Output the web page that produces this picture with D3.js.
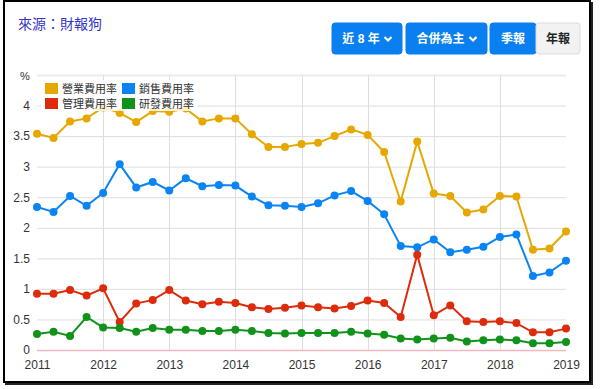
<!DOCTYPE html>
<html>
<head>
<meta charset="utf-8">
<script src="https://cdn.jsdelivr.net/npm/d3@7"></script>
<style type="text/css">
  body { margin: 0; background: #fff; font-family: Arial, "Liberation Sans", "Noto Sans CJK TC", sans-serif; }
  #frame {
    position: absolute; left: 3px; top: 0px; width: 584px; height: 379px;
    border: 2px solid #000; box-shadow: 2px 2px 0 #222; background: #fff;
  }
  svg { position: absolute; left: 0; top: 0; }
</style>
</head>
<body>
<div id="frame"></div>
<script type="text/javascript">

  // quarterly periods 2011 Q1 .. 2019 Q1
  var years = [2011, 2012, 2013, 2014, 2015, 2016, 2017, 2018, 2019];
  var yTicks = [0, 0.5, 1, 1.5, 2, 2.5, 3, 3.5, 4];
  var seriesNames = ["營業費用率", "銷售費用率", "管理費用率", "研發費用率"];
  var colors = ["#e6a800", "#0a84f2", "#dc2c0c", "#11921a"];

  var opex  = [3.54, 3.47, 3.74, 3.79, 3.97, 3.88, 3.73, 3.91, 3.90, 3.95, 3.74, 3.79, 3.79, 3.53, 3.32, 3.32, 3.37,
               3.39, 3.50, 3.61, 3.52, 3.24, 2.43, 3.41, 2.56, 2.52, 2.25, 2.30, 2.52, 2.51, 1.64, 1.66, 1.94];
  var sales = [2.34, 2.26, 2.52, 2.36, 2.57, 3.04, 2.66, 2.75, 2.61, 2.81, 2.68, 2.70, 2.69, 2.51, 2.37, 2.36, 2.34,
               2.40, 2.53, 2.60, 2.44, 2.22, 1.70, 1.68, 1.81, 1.60, 1.64, 1.69, 1.85, 1.89, 1.21, 1.27, 1.46];
  var admin = [0.92, 0.92, 0.98, 0.89, 1.01, 0.46, 0.76, 0.82, 0.98, 0.81, 0.75, 0.79, 0.77, 0.70, 0.67, 0.69, 0.73,
               0.70, 0.68, 0.72, 0.81, 0.77, 0.54, 1.56, 0.57, 0.73, 0.47, 0.46, 0.47, 0.44, 0.29, 0.29, 0.35];
  var rnd   = [0.26, 0.30, 0.23, 0.54, 0.37, 0.36, 0.30, 0.36, 0.33, 0.33, 0.31, 0.31, 0.33, 0.31, 0.28, 0.27, 0.28,
               0.28, 0.28, 0.30, 0.27, 0.25, 0.19, 0.17, 0.19, 0.20, 0.14, 0.16, 0.17, 0.16, 0.11, 0.11, 0.13];

  var allSeries = [opex, sales, admin, rnd];

  var W = 600, H = 389;
  var svg = d3.select("body").append("svg").attr("width", W).attr("height", H);

  // header
  svg.append("text").attr("x", 18).attr("y", 29)
    .attr("font-size", 14).attr("fill", "#3535c8").text("來源：財報狗");

  var buttons = [
    {label: "近 8 年", x: 332, w: 70, arrow: true, on: true},
    {label: "合併為主", x: 406, w: 81, arrow: true, on: true},
    {label: "季報", x: 490, w: 46, arrow: false, on: true},
    {label: "年報", x: 536, w: 44, arrow: false, on: false}
  ];
  var btn = svg.selectAll(".btn").data(buttons).enter().append("g").attr("class", "btn");
  btn.append("rect")
    .attr("x", function(d) { return d.x; }).attr("y", 23)
    .attr("width", function(d) { return d.w; }).attr("height", 31)
    .attr("rx", 3)
    .attr("fill", function(d) { return d.on ? "#0a7ff0" : "#f2f2f2"; })
    .attr("stroke", function(d) { return d.on ? "#0a7ff0" : "#dcdcdc"; });
  btn.append("text")
    .attr("x", function(d) { return d.x + d.w / 2 + (d.arrow ? -6 : 0); })
    .attr("y", 43).attr("text-anchor", "middle")
    .attr("font-size", 12).attr("font-weight", "bold")
    .attr("fill", function(d) { return d.on ? "#fff" : "#222"; })
    .text(function(d) { return d.label; });
  btn.filter(function(d) { return d.arrow; }).append("path")
    .attr("d", function(d) {
      var cx = d.x + d.w - 14;
      return "M" + (cx - 3.5) + ",37 L" + cx + ",40.5 L" + (cx + 3.5) + ",37";
    })
    .attr("fill", "none").attr("stroke", "#fff").attr("stroke-width", 2.2);

  // chart
  var x = d3.scaleLinear().domain([2011, 2019]).range([37, 566]);
  var y = d3.scaleLinear().domain([0, 4.5]).range([350, 75]);

  var g = svg.append("g");

  g.selectAll(".hgrid").data(yTicks.slice(1).concat([4.5])).enter().append("line")
    .attr("x1", 37).attr("x2", 566)
    .attr("y1", function(d) { return y(d) + 0.5; }).attr("y2", function(d) { return y(d) + 0.5; })
    .attr("stroke", function(d) { return d === 4.5 ? "#ececec" : "#dedede"; })
    .attr("stroke-width", function(d) { return d === 4.5 ? 2 : 1; });

  g.selectAll(".vgrid").data(years.slice(1, -1)).enter().append("line")
    .attr("x1", function(d) { return Math.round(x(d)) + 0.5; })
    .attr("x2", function(d) { return Math.round(x(d)) + 0.5; })
    .attr("y1", 75).attr("y2", 350)
    .attr("stroke", "#dedede");

  g.append("line").attr("x1", 37).attr("x2", 566)
    .attr("y1", y(0) + 0.5).attr("y2", y(0) + 0.5)
    .attr("stroke", "#f2b8c0").attr("stroke-width", 1.5);

  // axes
  var yAxis = d3.axisLeft(y).tickValues(yTicks).tickSize(0).tickPadding(6)
    .tickFormat(function(d) { return d3.format("")(d); });
  var ya = g.append("g").attr("transform", "translate(36,0)").call(yAxis);
  ya.select(".domain").remove();
  ya.selectAll("text").attr("font-size", 12).attr("fill", "#333")
    .attr("font-family", "Arial, 'Liberation Sans', sans-serif");

  var xAxis = d3.axisBottom(x).tickValues(years).tickSize(0).tickPadding(10)
    .tickFormat(d3.format("d"));
  var xa = g.append("g").attr("transform", "translate(0,350)").call(xAxis);
  xa.select(".domain").remove();
  xa.selectAll("text").attr("font-size", 12).attr("fill", "#333")
    .attr("font-family", "Arial, 'Liberation Sans', sans-serif");

  g.append("text").attr("x", 20).attr("y", 80).attr("font-size", 11).attr("fill", "#333").text("%");

  // series
  var line = d3.line()
    .x(function(d, i) { return x(2011 + i * 0.25); })
    .y(function(d) { return y(d); });

  var sg = g.selectAll(".series").data(allSeries).enter().append("g").attr("class", "series");
  sg.append("path")
    .attr("d", function(d) { return line(d); })
    .attr("fill", "none")
    .attr("stroke", function(d, i) { return colors[i]; })
    .attr("stroke-width", 2);
  sg.each(function(s, si) {
    d3.select(this).selectAll("circle").data(s).enter().append("circle")
      .attr("cx", function(d, i) { return x(2011 + i * 0.25); })
      .attr("cy", function(d) { return y(d); })
      .attr("r", 4)
      .attr("fill", colors[si]);
  });

  // legend
  var lg = g.append("g");
  lg.append("rect").attr("x", 42).attr("y", 80).attr("width", 156).attr("height", 31)
    .attr("fill", "#fff").attr("fill-opacity", 0.8);
  var item = lg.selectAll(".item").data(seriesNames).enter().append("g")
    .attr("transform", function(d, i) {
      return "translate(" + (45 + (i % 2) * 77) + "," + (83 + Math.floor(i / 2) * 15) + ")";
    });
  item.append("rect").attr("width", 13).attr("height", 11)
    .attr("fill", function(d, i) { return colors[i]; });
  item.append("text").attr("x", 17).attr("y", 10)
    .attr("font-size", 11).attr("fill", "#333").text(function(d) { return d; });

</script>
</body>
</html>
